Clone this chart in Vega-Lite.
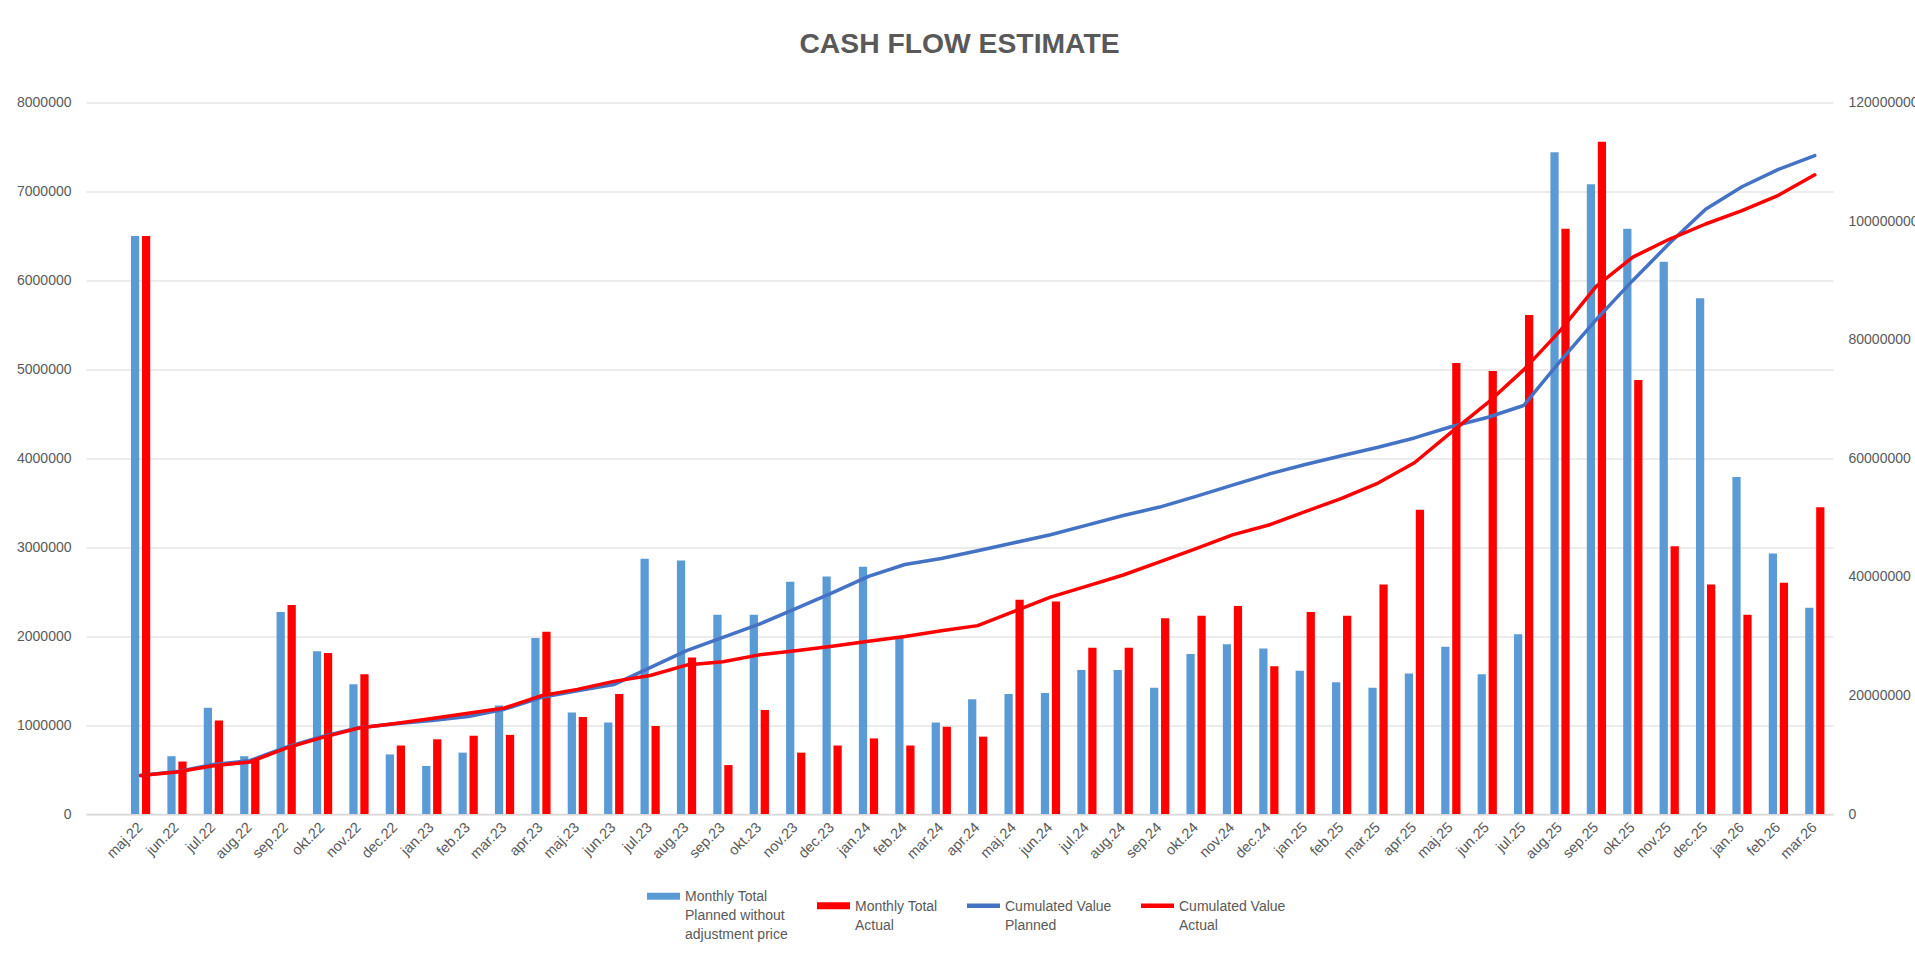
{
  "$schema": "https://vega.github.io/schema/vega-lite/v6.json",
  "autosize": {"type": "none"},
  "width": 1747,
  "height": 711.5,
  "padding": {"left": 86, "top": 102.5, "right": 82, "bottom": 140},
  "background": "white",
  "title": {"text": "CASH FLOW ESTIMATE", "font": "Liberation Sans", "fontSize": 28.3, "fontWeight": "bold", "color": "#595959", "anchor": "middle", "offset": 36},
  "config": {"view": {"stroke": null}, "font": "Liberation Sans"},
  "data": {"values": [
    {"m": "maj.22", "planned": 6500000, "actual": 6500000, "cumPlanned": 6500000, "cumActual": 6500000},
    {"m": "jun.22", "planned": 650000, "actual": 590000, "cumPlanned": 7150000, "cumActual": 7090000},
    {"m": "jul.22", "planned": 1195000, "actual": 1050000, "cumPlanned": 8345000, "cumActual": 8140000},
    {"m": "aug.22", "planned": 650000, "actual": 630000, "cumPlanned": 8995000, "cumActual": 8770000},
    {"m": "sep.22", "planned": 2270000, "actual": 2350000, "cumPlanned": 11265000, "cumActual": 11120000},
    {"m": "okt.22", "planned": 1830000, "actual": 1810000, "cumPlanned": 13095000, "cumActual": 12930000},
    {"m": "nov.22", "planned": 1460000, "actual": 1570000, "cumPlanned": 14555000, "cumActual": 14500000},
    {"m": "dec.22", "planned": 670000, "actual": 770000, "cumPlanned": 15225000, "cumActual": 15270000},
    {"m": "jan.23", "planned": 540000, "actual": 840000, "cumPlanned": 15765000, "cumActual": 16110000},
    {"m": "feb.23", "planned": 690000, "actual": 880000, "cumPlanned": 16455000, "cumActual": 16990000},
    {"m": "mar.23", "planned": 1220000, "actual": 890000, "cumPlanned": 17675000, "cumActual": 17880000},
    {"m": "apr.23", "planned": 1980000, "actual": 2050000, "cumPlanned": 19655000, "cumActual": 19930000},
    {"m": "maj.23", "planned": 1140000, "actual": 1090000, "cumPlanned": 20795000, "cumActual": 21020000},
    {"m": "jun.23", "planned": 1030000, "actual": 1350000, "cumPlanned": 21825000, "cumActual": 22370000},
    {"m": "jul.23", "planned": 2870000, "actual": 990000, "cumPlanned": 24695000, "cumActual": 23360000},
    {"m": "aug.23", "planned": 2850000, "actual": 1760000, "cumPlanned": 27545000, "cumActual": 25120000},
    {"m": "sep.23", "planned": 2240000, "actual": 550000, "cumPlanned": 29785000, "cumActual": 25670000},
    {"m": "okt.23", "planned": 2240000, "actual": 1170000, "cumPlanned": 32025000, "cumActual": 26840000},
    {"m": "nov.23", "planned": 2610000, "actual": 690000, "cumPlanned": 34635000, "cumActual": 27530000},
    {"m": "dec.23", "planned": 2670000, "actual": 770000, "cumPlanned": 37305000, "cumActual": 28300000},
    {"m": "jan.24", "planned": 2780000, "actual": 850000, "cumPlanned": 40085000, "cumActual": 29150000},
    {"m": "feb.24", "planned": 1990000, "actual": 770000, "cumPlanned": 42075000, "cumActual": 29920000},
    {"m": "mar.24", "planned": 1030000, "actual": 980000, "cumPlanned": 43105000, "cumActual": 30900000},
    {"m": "apr.24", "planned": 1290000, "actual": 870000, "cumPlanned": 44395000, "cumActual": 31770000},
    {"m": "maj.24", "planned": 1350000, "actual": 2410000, "cumPlanned": 45745000, "cumActual": 34180000},
    {"m": "jun.24", "planned": 1360000, "actual": 2390000, "cumPlanned": 47105000, "cumActual": 36570000},
    {"m": "jul.24", "planned": 1620000, "actual": 1870000, "cumPlanned": 48725000, "cumActual": 38440000},
    {"m": "aug.24", "planned": 1620000, "actual": 1870000, "cumPlanned": 50345000, "cumActual": 40310000},
    {"m": "sep.24", "planned": 1420000, "actual": 2200000, "cumPlanned": 51765000, "cumActual": 42510000},
    {"m": "okt.24", "planned": 1800000, "actual": 2230000, "cumPlanned": 53565000, "cumActual": 44740000},
    {"m": "nov.24", "planned": 1910000, "actual": 2340000, "cumPlanned": 55475000, "cumActual": 47080000},
    {"m": "dec.24", "planned": 1860000, "actual": 1660000, "cumPlanned": 57335000, "cumActual": 48740000},
    {"m": "jan.25", "planned": 1610000, "actual": 2270000, "cumPlanned": 58945000, "cumActual": 51010000},
    {"m": "feb.25", "planned": 1480000, "actual": 2230000, "cumPlanned": 60425000, "cumActual": 53240000},
    {"m": "mar.25", "planned": 1420000, "actual": 2580000, "cumPlanned": 61845000, "cumActual": 55820000},
    {"m": "apr.25", "planned": 1580000, "actual": 3420000, "cumPlanned": 63425000, "cumActual": 59240000},
    {"m": "maj.25", "planned": 1880000, "actual": 5070000, "cumPlanned": 65305000, "cumActual": 64310000},
    {"m": "jun.25", "planned": 1570000, "actual": 4980000, "cumPlanned": 66875000, "cumActual": 69290000},
    {"m": "jul.25", "planned": 2020000, "actual": 5610000, "cumPlanned": 68895000, "cumActual": 74900000},
    {"m": "aug.25", "planned": 7440000, "actual": 6580000, "cumPlanned": 76335000, "cumActual": 81480000},
    {"m": "sep.25", "planned": 7080000, "actual": 7560000, "cumPlanned": 83415000, "cumActual": 89040000},
    {"m": "okt.25", "planned": 6580000, "actual": 4880000, "cumPlanned": 89995000, "cumActual": 93920000},
    {"m": "nov.25", "planned": 6210000, "actual": 3010000, "cumPlanned": 96205000, "cumActual": 96930000},
    {"m": "dec.25", "planned": 5800000, "actual": 2580000, "cumPlanned": 102005000, "cumActual": 99510000},
    {"m": "jan.26", "planned": 3790000, "actual": 2240000, "cumPlanned": 105795000, "cumActual": 101750000},
    {"m": "feb.26", "planned": 2930000, "actual": 2600000, "cumPlanned": 108725000, "cumActual": 104350000},
    {"m": "mar.26", "planned": 2320000, "actual": 3450000, "cumPlanned": 111045000, "cumActual": 107800000}
  ]},
  "layer": [
    {
      "transform": [{"fold": ["planned", "actual"], "as": ["key", "value"]}],
      "mark": {"type": "bar"},
      "encoding": {
        "x": {
          "field": "m", "type": "nominal",
          "scale": {
            "domain": ["maj.22","jun.22","jul.22","aug.22","sep.22","okt.22","nov.22","dec.22","jan.23","feb.23","mar.23","apr.23","maj.23","jun.23","jul.23","aug.23","sep.23","okt.23","nov.23","dec.23","jan.24","feb.24","mar.24","apr.24","maj.24","jun.24","jul.24","aug.24","sep.24","okt.24","nov.24","dec.24","jan.25","feb.25","mar.25","apr.25","maj.25","jun.25","jul.25","aug.25","sep.25","okt.25","nov.25","dec.25","jan.26","feb.26","mar.26"],
            "paddingInner": 0, "paddingOuter": 0.5, "align": 1
          },
          "axis": {
            "title": null, "labelAngle": -45, "labelAlign": "right", "labelBaseline": "middle",
            "labelPadding": 11, "ticks": false, "domainColor": "#D9D9D9", "domainWidth": 1.5,
            "labelFont": "Liberation Sans", "labelFontSize": 14.5, "labelColor": "#595959",
            "grid": false, "labelOverlap": false, "labelBound": false
          }
        },
        "xOffset": {"field": "key", "type": "nominal", "scale": {"domain": ["planned", "actual"], "paddingInner": 0.25, "paddingOuter": 0.78}},
        "y": {
          "field": "value", "type": "quantitative",
          "scale": {"domain": [0, 8000000], "nice": false},
          "axis": {
            "title": null, "values": [0,1000000,2000000,3000000,4000000,5000000,6000000,7000000,8000000],
            "format": "d", "labelPadding": 15, "ticks": false, "domain": false,
            "grid": true, "gridColor": "#D9D9D9", "gridWidth": 1,
            "labelFont": "Liberation Sans", "labelFontSize": 14, "labelColor": "#595959"
          }
        },
        "color": {
          "field": "key", "type": "nominal",
          "scale": {"domain": ["planned", "actual", "cumPlanned", "cumActual"], "range": ["#5B9BD5", "#FF0000", "#4472C4", "#FF0000"]},
          "legend": {
            "title": null, "orient": "none", "legendX": 561, "legendY": 777,
            "direction": "horizontal", "columns": 4, "columnPadding": 29, "padding": 0,
            "labelOffset": 5, "symbolSize": 1089, "labelFont": "Liberation Sans", "labelFontSize": 14,
            "labelColor": "#595959", "labelBaseline": "top", "labelLimit": 300,
            "labelExpr": "datum.value == 'planned' ? ['Monthly Total','Planned without','adjustment price'] : datum.value == 'actual' ? ['Monthly Total','Actual'] : datum.value == 'cumPlanned' ? ['Cumulated Value','Planned'] : ['Cumulated Value','Actual']",
            "encode": {
              "symbols": {"update": {
                "shape": {"signal": "(datum.value == 'planned' || datum.value == 'actual') ? 'M-1,-0.21H1V0.21H-1Z' : 'M-1,-0.13H1V0.13H-1Z'"},
                "fill": {"scale": "color", "field": "value"},
                "stroke": {"value": "transparent"},
                "strokeWidth": {"value": 0},
                "opacity": {"value": 1}
              }},
              "labels": {"update": {"dy": {"value": -6}, "lineHeight": {"value": 19}}}
            }
          }
        }
      }
    },
    {
      "transform": [{"fold": ["cumPlanned", "cumActual"], "as": ["key", "value"]}],
      "mark": {"type": "line", "strokeWidth": 3.5, "strokeCap": "round", "strokeJoin": "round"},
      "encoding": {
        "x": {"field": "m", "type": "nominal"},
        "y": {
          "field": "value", "type": "quantitative",
          "scale": {"domain": [0, 120000000], "nice": false},
          "axis": {
            "orient": "right", "title": null,
            "values": [0,20000000,40000000,60000000,80000000,100000000,120000000],
            "format": "d", "labelPadding": 15, "ticks": false, "domain": false, "grid": false,
            "labelFont": "Liberation Sans", "labelFontSize": 14, "labelColor": "#595959"
          }
        },
        "color": {"field": "key", "type": "nominal"}
      }
    }
  ],
  "resolve": {"scale": {"y": "independent"}}
}
